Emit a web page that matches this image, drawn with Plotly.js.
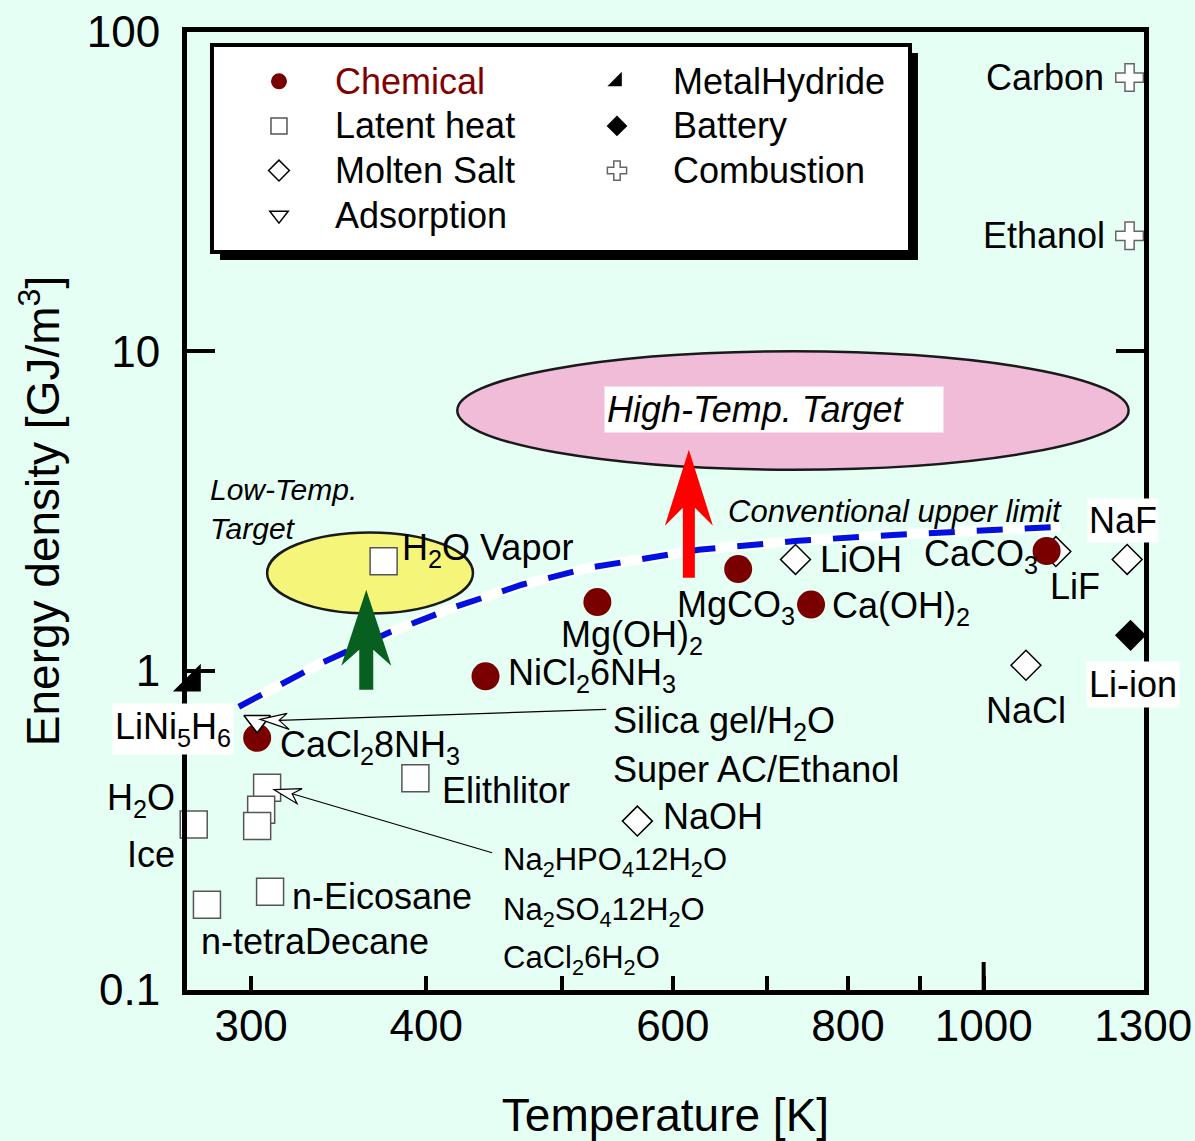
<!DOCTYPE html>
<html><head><meta charset="utf-8">
<script src="https://cdn.plot.ly/plotly-3.0.1.min.js"></script>
<style>html,body{margin:0;padding:0;background:#e6fff5;} #chart{width:1195px;height:1141px;}</style>
</head><body><div id="chart"></div>
<script>
// ---------- data ----------
const chemNames = ['CaCl<sub>2</sub>8NH<sub>3</sub>','NiCl<sub>2</sub>6NH<sub>3</sub>','Mg(OH)<sub>2</sub>','MgCO<sub>3</sub>','Ca(OH)<sub>2</sub>','CaCO<sub>3</sub>'];
const chemT = [303, 441, 530, 668, 753, 1109];
const chemE = [0.616, 0.96, 1.64, 2.08, 1.61, 2.37];

const latentNames = ['H2O Ice','n-tetraDecane','Na2HPO4 12H2O','Na2SO4 12H2O','CaCl2 6H2O','n-Eicosane','Elithlitor','H2O Vapor'];
const latentT = [273, 279, 308, 305, 303, 309.5, 393, 373];
const latentE = [0.330, 0.185, 0.43, 0.367, 0.326, 0.203, 0.46, 2.20];

const moltenNames = ['NaOH','LiOH','LiF','NaF','NaCl'];
const moltenT = [566, 734, 1126, 1266, 1072];
const moltenE = [0.338, 2.23, 2.36, 2.23, 1.04];

const adsorpNames = ['Silica gel/H2O, Super AC/Ethanol'];
const adsorpT = [303];
const adsorpE = [0.694];

const hydrideNames = ['LiNi5H6'];
const hydrideT = [272];
const hydrideE = [0.92];

const batteryNames = ['Li-ion'];
const batteryT = [1273];
const batteryE = [1.29];

const combNames = ['Carbon','Ethanol'];
const combT = [1271, 1271];
const combE = [72, 23];

// conventional upper limit curve
const limitT = [294, 337, 376, 420, 468, 523, 626, 737, 868, 1023, 1134];
const limitE = [0.771, 1.059, 1.315, 1.586, 1.858, 2.101, 2.391, 2.552, 2.665, 2.763, 2.823];

// target regions
const highTargetT = [421, 1269];
const highTargetE = [4.26, 10];
const lowTargetT = [308, 432];
const lowTargetE = [1.51, 2.71];

const xTickVals = [300, 400, 600, 800, 1000, 1300];
const xTickText = ['300', '400', '600', '800', '1000', '1300'];
const xMinorVals = [500, 700, 900];
const yTickVals = [0.1, 1, 10, 100];
const yTickText = ['0.1', '1', '10', '100'];

// ---------- styling ----------
const FONT = 'Liberation Sans, Arial, Helvetica, sans-serif';
const BG = '#e6fff5';
const L = Math.log10;
const lg = (s, c) => '<span style="font-size:36px' + (c ? ';fill:' + c : '') + '">' + s + '</span>';

const traces = [
  {x: limitT, y: limitE, mode: 'lines', line: {color: '#ffffff', width: 10}, showlegend: false, hoverinfo: 'skip'},
  {x: limitT, y: limitE, mode: 'lines', line: {color: '#0010e0', width: 6, dash: '26px,22px'}, showlegend: false, hoverinfo: 'skip'},
  {name: lg('Latent heat'), x: latentT, y: latentE, text: latentNames, mode: 'markers', legendrank: 3, cliponaxis: false,
   marker: {symbol: 'square', size: 27, color: '#ffffff', line: {color: '#555555', width: 1.5}}},
  {name: lg('Molten Salt'), x: moltenT, y: moltenE, text: moltenNames, mode: 'markers', legendrank: 5, cliponaxis: false,
   marker: {symbol: 'diamond', size: 23, color: '#ffffff', line: {color: '#000000', width: 1.5}}},
  {name: lg('MetalHydride'), x: hydrideT, y: hydrideE, text: hydrideNames, mode: 'markers', legendrank: 2, cliponaxis: false,
   marker: {symbol: 'triangle-se', size: 31, color: '#000000', line: {color: '#000000', width: 0}}},
  {name: lg('Battery'), x: batteryT, y: batteryE, text: batteryNames, mode: 'markers', legendrank: 4, cliponaxis: false,
   marker: {symbol: 'diamond', size: 24, color: '#000000', line: {color: '#000000', width: 0}}},
  {name: lg('Combustion'), x: combT, y: combE, text: combNames, mode: 'markers', legendrank: 6, cliponaxis: false,
   marker: {symbol: 'cross', size: 23, color: '#ffffff', line: {color: '#666666', width: 1.5}}},
  {name: lg('Chemical', '#800000'), x: chemT, y: chemE, text: chemNames, mode: 'markers', legendrank: 1, cliponaxis: false,
   marker: {symbol: 'circle', size: 28, color: '#7a0000', line: {width: 0}}},
  {name: lg('Adsorption'), x: adsorpT, y: adsorpE, text: adsorpNames, mode: 'markers', legendrank: 7, cliponaxis: false,
   marker: {symbol: 'triangle-down', size: 23, color: '#ffffff', line: {color: '#000000', width: 1.5}}}
];

function lab(t, e, text, o) {
  return Object.assign({xref: 'x', yref: 'y', x: L(t), y: L(e), text: text, showarrow: false,
    font: {family: FONT, size: 36, color: '#000'}, xanchor: 'left', yanchor: 'middle', borderpad: 0}, o || {});
}
const small = {family: FONT, size: 31, color: '#000'};
const ital = (s) => ({family: FONT, size: s, color: '#000', style: 'italic'});

const annotations = [
  lab(chemT[0], chemE[0], chemNames[0], {xshift: 22, yshift: -9}),
  lab(chemT[1], chemE[1], chemNames[1], {xshift: 21, yshift: 1}),
  lab(chemT[2], chemE[2], chemNames[2], {xanchor: 'center', xshift: 35, yshift: -35}),
  lab(chemT[3], chemE[3], chemNames[3], {xanchor: 'center', xshift: -2, yshift: -38}),
  lab(chemT[4], chemE[4], chemNames[4], {xshift: 20, yshift: -3}),
  lab(chemT[5], chemE[5], chemNames[5], {xanchor: 'right', xshift: -8, yshift: -5}),
  lab(latentT[0], latentE[0], 'H<sub>2</sub>O', {xanchor: 'right', xshift: -18, yshift: 24}),
  lab(latentT[0], latentE[0], 'Ice', {xanchor: 'right', xshift: -18, yshift: -30}),
  lab(latentT[1], latentE[1], 'n-tetraDecane', {xshift: -7, yshift: -37}),
  lab(latentT[2], latentE[2], 'Na<sub>2</sub>HPO<sub>4</sub>12H<sub>2</sub>O', {xshift: 235, yshift: -74, font: small}),
  lab(latentT[3], latentE[3], 'Na<sub>2</sub>SO<sub>4</sub>12H<sub>2</sub>O', {xshift: 241, yshift: -102, font: small}),
  lab(latentT[4], latentE[4], 'CaCl<sub>2</sub>6H<sub>2</sub>O', {xshift: 245, yshift: -134, font: small}),
  lab(latentT[5], latentE[5], 'n-Eicosane', {xshift: 21, yshift: -5}),
  lab(latentT[6], latentE[6], 'Elithlitor', {xshift: 26, yshift: -12}),
  lab(latentT[7], latentE[7], 'H<sub>2</sub>O Vapor', {xshift: 17, yshift: 11}),
  lab(moltenT[0], moltenE[0], 'NaOH', {xshift: 25, yshift: 5}),
  lab(moltenT[1], moltenE[1], 'LiOH', {xshift: 23, yshift: 0}),
  lab(moltenT[2], moltenE[2], 'LiF', {xanchor: 'center', xshift: 19, yshift: -35}),
  lab(moltenT[3], moltenE[3], 'NaF', {xanchor: 'center', xshift: -4, yshift: 39, bgcolor: '#ffffff', borderpad: 1}),
  lab(moltenT[4], moltenE[4], 'NaCl', {xanchor: 'center', xshift: 0, yshift: -45}),
  lab(adsorpT[0], adsorpE[0], 'Silica gel/H<sub>2</sub>O', {xshift: 355, yshift: -2}),
  lab(adsorpT[0], adsorpE[0], 'Super AC/Ethanol', {xshift: 355, yshift: -48}),
  lab(hydrideT[0], hydrideE[0], 'LiNi<sub>5</sub>H<sub>6</sub>', {xanchor: 'center', xshift: -18, yshift: -47, bgcolor: '#ffffff', borderpad: 2}),
  lab(batteryT[0], batteryE[0], 'Li-ion', {xanchor: 'center', xshift: 2, yshift: -49, bgcolor: '#ffffff', borderpad: 2}),
  lab(combT[0], combE[0], 'Carbon', {xanchor: 'right', xshift: -25, yshift: 0}),
  lab(combT[1], combE[1], 'Ethanol', {xanchor: 'right', xshift: -24, yshift: 0}),
  {xref: 'x', yref: 'y', x: 2.8504, y: 0.8169, text: 'High-Temp. Target', showarrow: false, font: ital(36),
   bgcolor: '#ffffff', width: 334, align: 'left', borderpad: 2, xanchor: 'center', yanchor: 'middle'},
  {xref: 'x', yref: 'y', x: 2.446, y: 0.507, text: 'Low-Temp.<br>Target', showarrow: false, font: ital(30),
   align: 'left', xanchor: 'left', yanchor: 'middle'},
  {xref: 'x', yref: 'y', x: 2.937, y: 0.4977, text: 'Conventional upper limit', showarrow: false, font: ital(31),
   xanchor: 'center', yanchor: 'middle'}
];

function pxShape(t, e, path, o) {
  return Object.assign({type: 'path', xref: 'x', yref: 'y', xsizemode: 'pixel', ysizemode: 'pixel',
    xanchor: t, yanchor: e, path: path, layer: 'above'}, o);
}

const shapes = [
  {type: 'circle', xref: 'x', yref: 'y', x0: highTargetT[0], x1: highTargetT[1], y0: highTargetE[0], y1: highTargetE[1],
   fillcolor: '#f0bcd8', line: {color: '#1a1a1a', width: 2.5}, layer: 'below'},
  {type: 'circle', xref: 'x', yref: 'y', x0: lowTargetT[0], x1: lowTargetT[1], y0: lowTargetE[0], y1: lowTargetE[1],
   fillcolor: '#f5f57a', line: {color: '#1a1a1a', width: 2.5}, layer: 'below'},
  // red and green arrows
  pxShape(616, 1.955, 'M-6,0 L-6,70 L-24,52 L0,128 L24,52 L6,70 L6,0 Z', {fillcolor: '#ff0000', line: {width: 0}}),
  pxShape(362.5, 0.872, 'M-7,0 L-7,40 L-25,24 L0,100 L25,24 L7,40 L7,0 Z', {fillcolor: '#086020', line: {width: 0}}),
  // leader lines with open arrowheads
  pxShape(adsorpT[0], adsorpE[0], 'M22,1 L349,12', {line: {color: '#000', width: 1.2}}),
  pxShape(adsorpT[0], adsorpE[0], 'M3,2 L30,8 L22,1 L32,-8 Z', {fillcolor: '#ffffff', line: {color: '#000', width: 1.2}}),
  pxShape(latentT[2], latentE[2], 'M25,-6 L225,-65', {line: {color: '#000', width: 1.2}}),
  pxShape(latentT[2], latentE[2], 'M7,-2 L35,-1 L25,-6 L30,-16 Z', {fillcolor: '#ffffff', line: {color: '#000', width: 1.2}}),
  // longer decade tick at 1000
  {type: 'line', xref: 'x', yref: 'y', x0: 1000, x1: 1000, ysizemode: 'pixel', yanchor: 0.1, y0: 0, y1: 28,
   line: {color: '#000', width: 4}, layer: 'above'},
  // legend box shadow + box
  {type: 'rect', xref: 'paper', yref: 'paper', x0: 0.0345, x1: 0.7638, y0: 0.762, y1: 0.978,
   fillcolor: '#000', line: {width: 0}, layer: 'above'},
  {type: 'rect', xref: 'paper', yref: 'paper', x0: 0.0261, x1: 0.7555, y0: 0.7704, y1: 0.9864,
   fillcolor: '#fff', line: {color: '#000', width: 4}, layer: 'above'}
];

const layout = {
  width: 1195, height: 1141,
  margin: {l: 187, r: 51, t: 32, b: 151},
  paper_bgcolor: BG, plot_bgcolor: BG,
  font: {family: FONT, color: '#000'},
  showlegend: true,
  legend: {x: 0.0376, y: 0.977, xanchor: 'left', yanchor: 'top', orientation: 'h',
    entrywidth: 221, entrywidthmode: 'pixels', itemwidth: 102, traceorder: 'normal',
    bgcolor: 'rgba(0,0,0,0)', borderwidth: 0, font: {family: FONT, size: 32, color: '#000'}},
  xaxis: {type: 'log', range: [L(270), L(1300) + 0.0005],
    tickvals: xTickVals, ticktext: xTickText, ticks: 'inside', ticklen: 14, tickwidth: 4, tickcolor: '#000',
    minor: {tickvals: xMinorVals, ticks: 'inside', ticklen: 14, tickwidth: 4, tickcolor: '#000'},
    showline: true, linewidth: 5, linecolor: '#000', mirror: true, showgrid: false, zeroline: false,
    tickfont: {family: FONT, size: 44, color: '#000'}, ticklabelstandoff: -7,
    title: {text: 'Temperature [K]', font: {family: FONT, size: 46, color: '#000'}, standoff: 53}},
  yaxis: {type: 'log', range: [-1, 2],
    tickvals: yTickVals, ticktext: yTickText, ticks: 'inside', ticklen: 28, tickwidth: 4, tickcolor: '#000',
    showline: true, linewidth: 5, linecolor: '#000', mirror: 'ticks', showgrid: false, zeroline: false,
    tickfont: {family: FONT, size: 44, color: '#000'}, ticklabelstandoff: 13,
    title: {text: 'Energy density [GJ/m<sup>3</sup>]', font: {family: FONT, size: 46, color: '#000'}, standoff: 14}},
  annotations: annotations,
  shapes: shapes
};

Plotly.newPlot('chart', traces, layout, {displayModeBar: false, staticPlot: true});
</script>
</body></html>
